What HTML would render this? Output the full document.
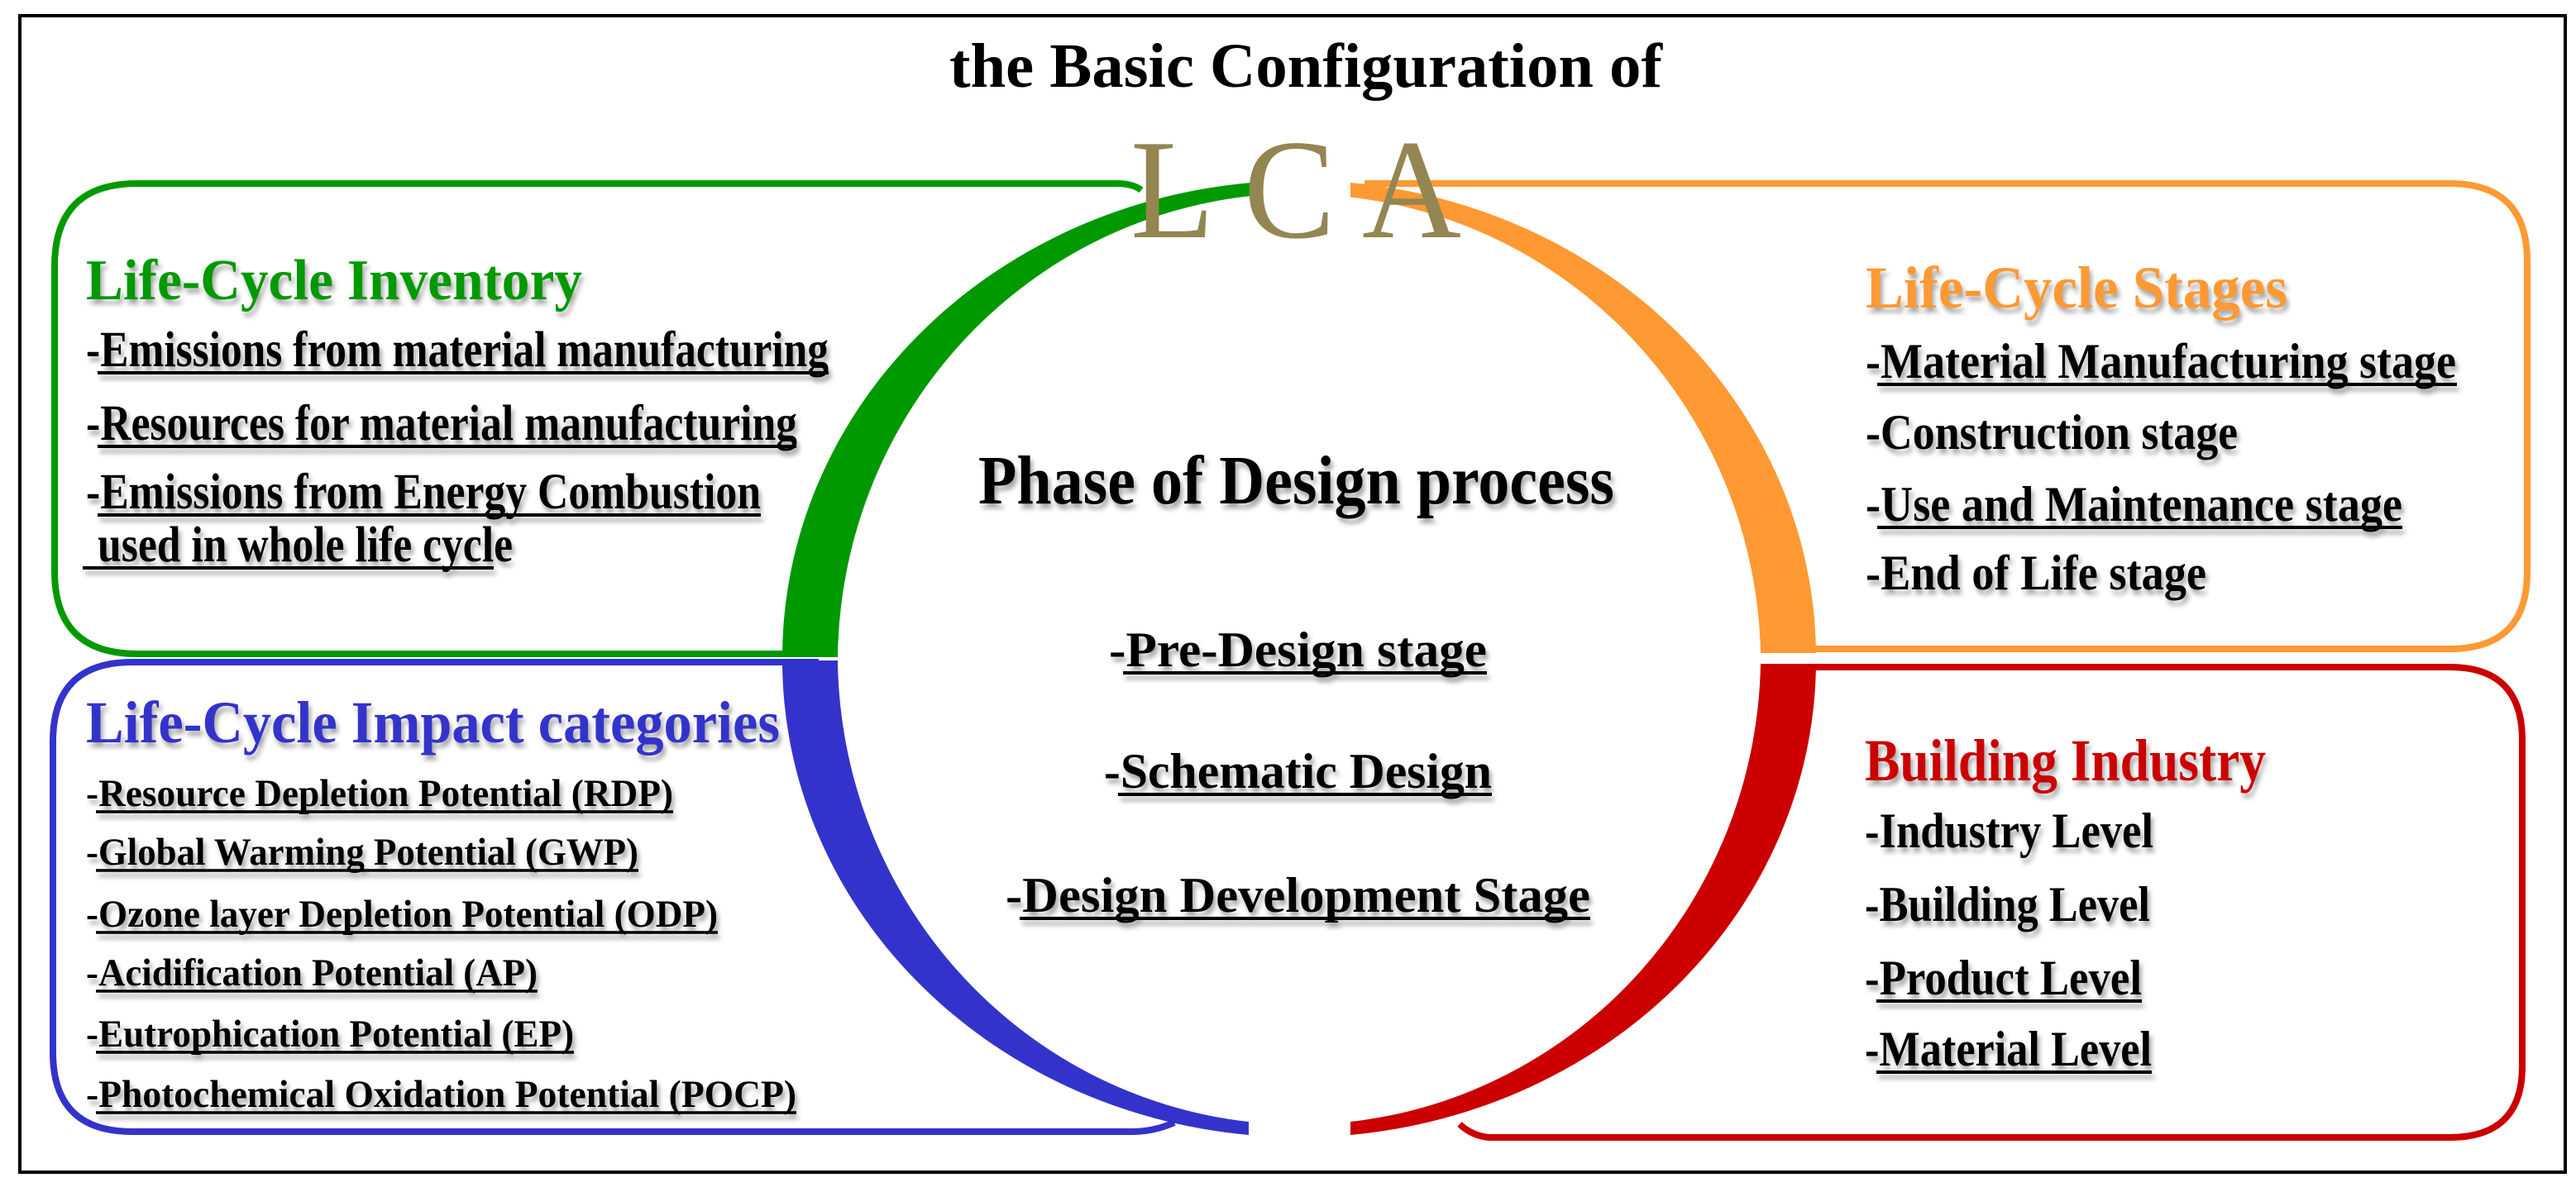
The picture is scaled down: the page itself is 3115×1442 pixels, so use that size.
<!DOCTYPE html>
<html><head><meta charset="utf-8"><style>
html,body{margin:0;padding:0;background:#fff}
svg{display:block}
text{font-family:"Liberation Serif",serif;font-weight:bold}
.sh{filter:drop-shadow(3px 6px 3px rgba(0,0,0,0.35))}
</style></head><body>
<svg width="3115" height="1442" viewBox="0 0 3115 1442" xmlns="http://www.w3.org/2000/svg">
<rect x="0" y="0" width="3115" height="1442" fill="#fff"/>
<rect x="24" y="19" width="3078" height="1399" fill="none" stroke="#000" stroke-width="4"/>

<path d="M1380,230 Q1370,222 1350,222 L166,222 Q66,222 66,322 L66,691 Q66,791 166,791 L990,791" fill="none" stroke="#009900" stroke-width="8"/>
<path d="M1650,222 L2962,222 Q3056,222 3056,316 L3056,692 Q3056,785 2962,785 L2170,785" fill="none" stroke="#FF9933" stroke-width="8"/>
<path d="M990,801 L160,801 Q64,801 64,897 L64,1273 Q64,1369 160,1369 L1370,1369 Q1395,1369 1420,1358" fill="none" stroke="#3333CC" stroke-width="8"/>
<path d="M2170,807 L2962,807 Q3050,807 3050,895 L3050,1290 Q3050,1376 2962,1376 L1800,1376 Q1780,1374 1765,1360" fill="none" stroke="#CC0000" stroke-width="8"/>

<path d="M946,795 A625,577 0 0 1 1513,221 L1513,237 A558,568 0 0 0 1013,795 Z" fill="#009900"/>
<path d="M1633,221 A625,577 0 0 1 2196,790 L2129,790 A558,568 0 0 0 1633,238.5 Z" fill="#FF9933"/>
<path d="M946,799 A625,577 0 0 0 1510,1373 L1510,1357 A558,568 0 0 1 1013,799 Z" fill="#3333CC"/>
<path d="M2196,803 A625,577 0 0 1 1633,1373 L1633,1357 A558,568 0 0 0 2129,803 Z" fill="#CC0000"/>

<text x="1148" y="105" font-size="76" textLength="862" lengthAdjust="spacingAndGlyphs" fill="#000">the Basic Configuration of</text>
<text x="1367" y="287" font-size="172" textLength="400" lengthAdjust="spacingAndGlyphs" fill="#938653" style="font-weight:normal">L C A</text>

<g class="sh">
<text x="104" y="362" font-size="70" textLength="600" lengthAdjust="spacingAndGlyphs" fill="#009900">Life-Cycle Inventory</text>
<g font-size="61" fill="#000">
<text x="104" y="443" textLength="898" lengthAdjust="spacingAndGlyphs">-Emissions from material manufacturing</text>
<text x="104" y="532" textLength="860" lengthAdjust="spacingAndGlyphs">-Resources for material manufacturing</text>
<text x="104" y="615" textLength="816" lengthAdjust="spacingAndGlyphs">-Emissions from Energy Combustion</text>
<text x="118" y="679" textLength="502" lengthAdjust="spacingAndGlyphs">used in whole life cycle</text>
</g>
<g stroke="#000" stroke-width="4">
<line x1="118" y1="451" x2="1002" y2="451"/>
<line x1="118" y1="540" x2="963" y2="540"/>
<line x1="118" y1="623" x2="920" y2="623"/>
<line x1="100" y1="687" x2="597" y2="687"/>
</g>

<text x="2256" y="372" font-size="72" textLength="510" lengthAdjust="spacingAndGlyphs" fill="#FF9933">Life-Cycle Stages</text>
<g font-size="60" fill="#000">
<text x="2256" y="457" textLength="714" lengthAdjust="spacingAndGlyphs">-Material Manufacturing stage</text>
<text x="2256" y="543" textLength="450" lengthAdjust="spacingAndGlyphs">-Construction stage</text>
<text x="2256" y="630" textLength="649" lengthAdjust="spacingAndGlyphs">-Use and Maintenance stage</text>
<text x="2256" y="713" textLength="412" lengthAdjust="spacingAndGlyphs">-End of Life stage</text>
</g>
<g stroke="#000" stroke-width="4">
<line x1="2270" y1="465" x2="2971" y2="465"/>
<line x1="2270" y1="638" x2="2905" y2="638"/>
</g>

<text x="1183" y="609" font-size="84" textLength="769" lengthAdjust="spacingAndGlyphs" fill="#000">Phase of Design process</text>
<g font-size="60" fill="#000">
<text x="1341" y="806" textLength="457" lengthAdjust="spacingAndGlyphs">-Pre-Design stage</text>
<text x="1335" y="953" textLength="469" lengthAdjust="spacingAndGlyphs">-Schematic Design</text>
<text x="1216" y="1103" textLength="707" lengthAdjust="spacingAndGlyphs">-Design Development Stage</text>
</g>
<g stroke="#000" stroke-width="4">
<line x1="1358" y1="814" x2="1798" y2="814"/>
<line x1="1352" y1="961" x2="1804" y2="961"/>
<line x1="1233" y1="1111" x2="1923" y2="1111"/>
</g>

<text x="104" y="898" font-size="72" textLength="839" lengthAdjust="spacingAndGlyphs" fill="#3333CC">Life-Cycle Impact categories</text>
<g font-size="47" fill="#000">
<text x="104" y="975" textLength="710" lengthAdjust="spacingAndGlyphs">-Resource Depletion Potential  (RDP)</text>
<text x="104" y="1046" textLength="668" lengthAdjust="spacingAndGlyphs">-Global Warming  Potential  (GWP)</text>
<text x="104" y="1121" textLength="764" lengthAdjust="spacingAndGlyphs">-Ozone  layer Depletion Potential  (ODP)</text>
<text x="104" y="1192" textLength="546" lengthAdjust="spacingAndGlyphs">-Acidification  Potential  (AP)</text>
<text x="104" y="1266" textLength="590" lengthAdjust="spacingAndGlyphs">-Eutrophication  Potential  (EP)</text>
<text x="104" y="1339" textLength="859" lengthAdjust="spacingAndGlyphs">-Photochemical  Oxidation  Potential   (POCP)</text>
</g>
<g stroke="#000" stroke-width="3.5">
<line x1="116" y1="982" x2="814" y2="982"/>
<line x1="116" y1="1053" x2="772" y2="1053"/>
<line x1="116" y1="1128" x2="868" y2="1128"/>
<line x1="116" y1="1199" x2="650" y2="1199"/>
<line x1="116" y1="1273" x2="694" y2="1273"/>
<line x1="116" y1="1346" x2="963" y2="1346"/>
</g>

<text x="2255" y="944" font-size="72" textLength="485" lengthAdjust="spacingAndGlyphs" fill="#CC0000">Building Industry</text>
<g font-size="60" fill="#000">
<text x="2255" y="1025" textLength="349" lengthAdjust="spacingAndGlyphs">-Industry Level</text>
<text x="2255" y="1114" textLength="345" lengthAdjust="spacingAndGlyphs">-Building Level</text>
<text x="2255" y="1203" textLength="335" lengthAdjust="spacingAndGlyphs">-Product Level</text>
<text x="2255" y="1289" textLength="347" lengthAdjust="spacingAndGlyphs">-Material Level</text>
</g>
<g stroke="#000" stroke-width="4">
<line x1="2269" y1="1211" x2="2590" y2="1211"/>
<line x1="2269" y1="1297" x2="2602" y2="1297"/>
</g>
</g>
</svg>
</body></html>
